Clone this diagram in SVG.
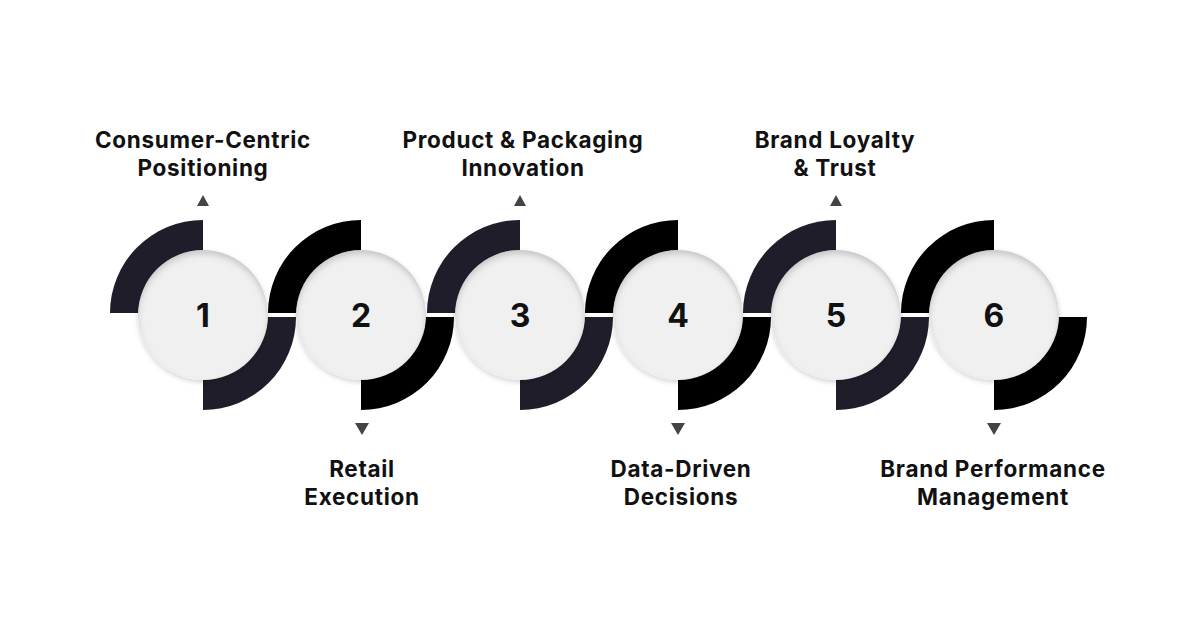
<svg xmlns="http://www.w3.org/2000/svg" width="1200" height="630" viewBox="0 0 1200 630">
  <style>
    .lbl { font-family: Inter, "Noto Sans", "Liberation Sans", sans-serif; font-weight: 700; font-size: 22.5px; letter-spacing: 0.7px; fill: #111111; text-anchor: middle; }
    .num { font-family: Inter, "Noto Sans", "Liberation Sans", sans-serif; font-weight: 700; font-size: 32px; fill: #111111; text-anchor: middle; }
    .navy { fill: #1f1d29; }
    .black { fill: #000000; }
    .disc { fill: #f0f0f0; filter: url(#inner); }
    .tri { fill: #444444; }
  </style>
  <defs>
    <filter id="inner" x="-30%" y="-30%" width="160%" height="160%">
      <feGaussianBlur in="SourceAlpha" stdDeviation="3" result="b"/>
      <feOffset in="b" dy="4" result="o"/>
      <feComposite in="SourceAlpha" in2="o" operator="arithmetic" k2="1" k3="-1" result="inv"/>
      <feFlood flood-color="#000000" flood-opacity="0.35"/>
      <feComposite in2="inv" operator="in" result="sh"/>
      <feGaussianBlur in="SourceAlpha" stdDeviation="2.5" result="ob"/>
      <feOffset in="ob" dy="2" result="oo"/>
      <feFlood flood-color="#000000" flood-opacity="0.18"/>
      <feComposite in2="oo" operator="in" result="outer"/>
      <feMerge><feMergeNode in="outer"/><feMergeNode in="SourceGraphic"/><feMergeNode in="sh"/></feMerge>
    </filter>
    <path id="topArc" d="M -93 313 A 93 93 0 0 1 0 220 L 0 253 A 60 60 0 0 0 -60 313 Z"/>
    <path id="botArc" d="M 93 317 A 93 93 0 0 1 0 410 L 0 377 A 60 60 0 0 0 60 317 Z"/>
  </defs>
  <rect width="1200" height="630" fill="#ffffff"/>

  <g id="arcs">
    <use href="#topArc" x="203" class="navy"/>
    <use href="#botArc" x="203" class="navy"/>
    <use href="#topArc" x="361" class="black"/>
    <use href="#botArc" x="361" class="black"/>
    <use href="#topArc" x="520" class="navy"/>
    <use href="#botArc" x="520" class="navy"/>
    <use href="#topArc" x="678" class="black"/>
    <use href="#botArc" x="678" class="black"/>
    <use href="#topArc" x="836" class="navy"/>
    <use href="#botArc" x="836" class="navy"/>
    <use href="#topArc" x="994" class="black"/>
    <use href="#botArc" x="994" class="black"/>
  </g>

  <g id="connectors">
    <path class="tri" d="M 197 206 L 209 206 L 203 195 Z"/>
    <path class="tri" d="M 355 423 L 369 423 L 362 435 Z"/>
    <path class="tri" d="M 514 206 L 526 206 L 520 195 Z"/>
    <path class="tri" d="M 671 423 L 685 423 L 678 435 Z"/>
    <path class="tri" d="M 830 206 L 842 206 L 836 195 Z"/>
    <path class="tri" d="M 987 423 L 1001 423 L 994 435 Z"/>
  </g>

  <g id="node1">
    <circle class="disc" cx="203" cy="315" r="65"/>
    <text class="num" x="203" y="327">1</text>
    <text class="lbl" x="203" y="148">Consumer-Centric</text>
    <text class="lbl" x="203" y="176">Positioning</text>
  </g>
  <g id="node2">
    <circle class="disc" cx="361" cy="315" r="65"/>
    <text class="num" x="361" y="327">2</text>
    <text class="lbl" x="362" y="477">Retail</text>
    <text class="lbl" x="362" y="505">Execution</text>
  </g>
  <g id="node3">
    <circle class="disc" cx="520" cy="315" r="65"/>
    <text class="num" x="520" y="327">3</text>
    <text class="lbl" x="523" y="148">Product &amp; Packaging</text>
    <text class="lbl" x="523" y="176">Innovation</text>
  </g>
  <g id="node4">
    <circle class="disc" cx="678" cy="315" r="65"/>
    <text class="num" x="678" y="327">4</text>
    <text class="lbl" x="681" y="477">Data-Driven</text>
    <text class="lbl" x="681" y="505">Decisions</text>
  </g>
  <g id="node5">
    <circle class="disc" cx="836" cy="315" r="65"/>
    <text class="num" x="836" y="327">5</text>
    <text class="lbl" x="835" y="148">Brand Loyalty</text>
    <text class="lbl" x="835" y="176">&amp; Trust</text>
  </g>
  <g id="node6">
    <circle class="disc" cx="994" cy="315" r="65"/>
    <text class="num" x="994" y="327">6</text>
    <text class="lbl" x="993" y="477">Brand Performance</text>
    <text class="lbl" x="993" y="505">Management</text>
  </g>
</svg>
